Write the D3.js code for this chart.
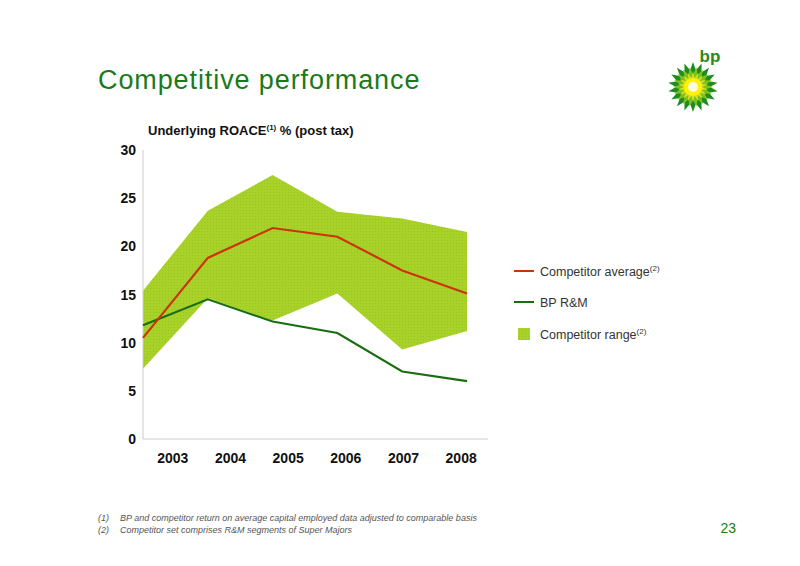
<!DOCTYPE html>
<html><head><meta charset="utf-8">
<script src="https://cdn.jsdelivr.net/npm/d3@7"></script>
<style>body{margin:0;background:#fff}text{font-family:"Liberation Sans",Arial,sans-serif}</style>
</head><body><svg id="c" width="800" height="566"></svg>
<script>
const years = ["2003","2004","2005","2006","2007","2008"];
const competitorAvg = [10.5, 18.8, 21.9, 21.0, 17.5, 15.1];
const bpRM = [11.8, 14.5, 12.2, 11.0, 7.0, 6.0];
const rangeHigh = [15.4, 23.7, 27.4, 23.6, 22.9, 21.5];
const rangeLow = [7.3, 14.6, 12.3, 15.1, 9.3, 11.2];
const yTicks = [0,5,10,15,20,25,30];

const svg = d3.select("#c");
const y = d3.scaleLinear().domain([0,30]).range([439,150]);
const xp = d3.scalePoint().domain(years).range([143,467]);
const xb = d3.scaleBand().domain(years).range([144,490]);

const defs = svg.append("defs");
const pat = defs.append("pattern").attr("id","dots").attr("width",3).attr("height",3).attr("patternUnits","userSpaceOnUse");
pat.append("rect").attr("width",3).attr("height",3).attr("fill","#a8d22a");
pat.append("rect").attr("width",1).attr("height",1).attr("fill","#98c41e");

svg.append("text").attr("x",98).attr("y",89).attr("fill","#1a7a1a").attr("font-size",27).attr("letter-spacing",0.9).text("Competitive performance");
const t = svg.append("text").attr("x",148).attr("y",135).attr("font-size",13).attr("font-weight","bold").attr("fill","#111");
t.append("tspan").text("Underlying ROACE");
t.append("tspan").attr("font-size",8).attr("dy",-5).text("(1)");
t.append("tspan").attr("dy",5).text(" % (post tax)");

const area = d3.area().x((d,i)=>xp(years[i])).y0((d,i)=>y(rangeLow[i])).y1(d=>y(d));
svg.append("path").attr("d",area(rangeHigh)).attr("fill","url(#dots)");

svg.append("line").attr("x1",143).attr("x2",143).attr("y1",150).attr("y2",439).attr("stroke","#ccc");
svg.append("line").attr("x1",143).attr("x2",488).attr("y1",439).attr("y2",439).attr("stroke","#ccc");
svg.selectAll(".yt").data(yTicks).enter().append("text").attr("x",136).attr("y",d=>y(d)+5)
  .attr("text-anchor","end").attr("font-size",14).attr("font-weight","bold").attr("fill","#111").text(d=>d);
svg.selectAll(".xt").data(years).enter().append("text").attr("x",d=>xb(d)+xb.bandwidth()/2).attr("y",463)
  .attr("text-anchor","middle").attr("font-size",14).attr("font-weight","bold").attr("fill","#111").text(d=>d);

const line = d3.line().x((d,i)=>xp(years[i])).y(d=>y(d));
svg.append("path").attr("d",line(bpRM)).attr("fill","none").attr("stroke","#1a6e12").attr("stroke-width",2.2);
svg.append("path").attr("d",line(competitorAvg)).attr("fill","none").attr("stroke","#cc3300").attr("stroke-width",2.2);

const leg = [{n:"Competitor average",s:"(2)",c:"#cc3300",t:"line",y:271},{n:"BP R&M",s:"",c:"#1a6e12",t:"line",y:302},{n:"Competitor range",s:"(2)",c:"url(#dots)",t:"box",y:334}];
leg.forEach(l=>{
  if(l.t=="line") svg.append("line").attr("x1",514).attr("x2",534).attr("y1",l.y).attr("y2",l.y).attr("stroke",l.c).attr("stroke-width",2);
  else svg.append("rect").attr("x",518).attr("y",l.y-6).attr("width",12).attr("height",12).attr("fill",l.c);
  const tt=svg.append("text").attr("x",540).attr("y",l.y+5).attr("font-size",12.5).attr("fill","#333");
  tt.append("tspan").text(l.n);
  if(l.s) tt.append("tspan").attr("font-size",8).attr("dy",-5).text(l.s);
});

const notes=[["(1)","BP and competitor return on average capital employed data adjusted to comparable basis",521],["(2)","Competitor set comprises R&M segments of Super Majors",533]];
notes.forEach(n=>{
  svg.append("text").attr("x",98).attr("y",n[2]).attr("font-size",9).attr("font-style","italic").attr("fill","#555").text(n[0]);
  svg.append("text").attr("x",120).attr("y",n[2]).attr("font-size",9).attr("font-style","italic").attr("fill","#555").text(n[1]);
});
svg.append("text").attr("x",736).attr("y",533).attr("text-anchor","end").attr("font-size",14).attr("fill","#1a7a1a").text("23");

// logo
const g = svg.append("g").attr("transform","translate(693,87)");
function star(n,ro,ri,col,rot){const pts=[];for(let i=0;i<2*n;i++){const r=i%2?ri:ro,a=Math.PI*i/n+rot;pts.push([r*Math.sin(a),-r*Math.cos(a)]);}g.append("polygon").attr("points",pts.map(p=>p.join(",")).join(" ")).attr("fill",col);}
star(18,25,17,"#1e8c1e",0);
star(18,20,13,"#7cc21e",Math.PI/18);
star(18,15,9,"#d8e020",0);
g.append("circle").attr("r",9).attr("fill","#fff100");
g.append("circle").attr("r",5).attr("fill","#fffbe0");
svg.append("text").attr("x",710).attr("y",62).attr("text-anchor","middle").attr("font-size",17).attr("font-weight","bold").attr("fill","#2a8a1a").text("bp");
</script></body></html>
